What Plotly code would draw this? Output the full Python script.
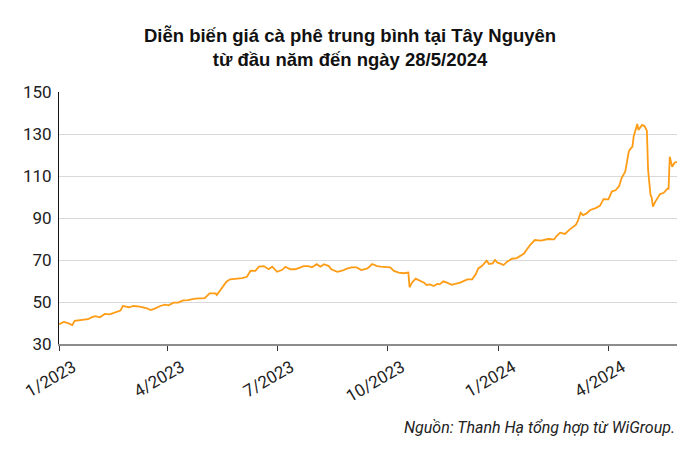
import plotly.graph_objects as go

dates = [
    "2023-01-01", "2023-01-05", "2023-01-09", "2023-01-12", "2023-01-14", "2023-01-20",
    "2023-01-25", "2023-01-28", "2023-01-31", "2023-02-04", "2023-02-08", "2023-02-12",
    "2023-02-17", "2023-02-21", "2023-02-23", "2023-02-28", "2023-03-04", "2023-03-09",
    "2023-03-15", "2023-03-18", "2023-03-22", "2023-03-26", "2023-03-30", "2023-04-02",
    "2023-04-06", "2023-04-10", "2023-04-14", "2023-04-18", "2023-04-24", "2023-04-28",
    "2023-05-02", "2023-05-06", "2023-05-11", "2023-05-12", "2023-05-16", "2023-05-20",
    "2023-05-23", "2023-05-27", "2023-06-02", "2023-06-06", "2023-06-09", "2023-06-13",
    "2023-06-16", "2023-06-20", "2023-06-24", "2023-06-27", "2023-07-01", "2023-07-05",
    "2023-07-08", "2023-07-12", "2023-07-16", "2023-07-20", "2023-07-23", "2023-07-27",
    "2023-07-30", "2023-08-03", "2023-08-06", "2023-08-09", "2023-08-13", "2023-08-15",
    "2023-08-20", "2023-08-24", "2023-08-28", "2023-09-01", "2023-09-05", "2023-09-09",
    "2023-09-14", "2023-09-18", "2023-09-22", "2023-09-25", "2023-09-27", "2023-10-03",
    "2023-10-06", "2023-10-10", "2023-10-14", "2023-10-18", "2023-10-19", "2023-10-21",
    "2023-10-24", "2023-10-28", "2023-10-31", "2023-11-02", "2023-11-05", "2023-11-08",
    "2023-11-11", "2023-11-13", "2023-11-16", "2023-11-19", "2023-11-23", "2023-11-26",
    "2023-11-30", "2023-12-06", "2023-12-10", "2023-12-13", "2023-12-15", "2023-12-18",
    "2023-12-22", "2023-12-24", "2023-12-27", "2023-12-29", "2023-12-31", "2024-01-02",
    "2024-01-05", "2024-01-08", "2024-01-12", "2024-01-16", "2024-01-19", "2024-01-22",
    "2024-01-24", "2024-01-27", "2024-01-31", "2024-02-05", "2024-02-11", "2024-02-16",
    "2024-02-18", "2024-02-21", "2024-02-25", "2024-02-29", "2024-03-05", "2024-03-07",
    "2024-03-09", "2024-03-11", "2024-03-14", "2024-03-17", "2024-03-21", "2024-03-25",
    "2024-03-28", "2024-04-01", "2024-04-04", "2024-04-07", "2024-04-10", "2024-04-12",
    "2024-04-15", "2024-04-18", "2024-04-19", "2024-04-21", "2024-04-22", "2024-04-25",
    "2024-04-26", "2024-04-29", "2024-05-01", "2024-05-03", "2024-05-04", "2024-05-06",
    "2024-05-07", "2024-05-08", "2024-05-10", "2024-05-12", "2024-05-14", "2024-05-17",
    "2024-05-20", "2024-05-21", "2024-05-22", "2024-05-24", "2024-05-26", "2024-05-28",
]

prices = [
    39.4, 40.5, 39.8, 39.0, 41.0, 41.3,
    41.8, 42.7, 43.3, 42.7, 44.3, 44.1,
    44.9, 45.9, 48.1, 47.5, 48.1, 47.8,
    47.0, 46.2, 47.0, 48.1, 48.7, 48.4,
    49.7, 49.7, 50.8, 50.9, 51.6, 51.6,
    51.8, 54.1, 54.1, 53.3, 56.5, 59.7,
    60.8, 61.0, 61.4, 62.0, 64.9, 64.8,
    66.8, 67.1, 65.6, 66.8, 64.4, 65.2,
    66.8, 65.6, 65.6, 66.4, 67.1, 67.1,
    66.5, 68.0, 66.8, 68.0, 67.1, 65.6,
    64.4, 64.9, 65.9, 66.5, 66.5, 65.2,
    66.0, 68.1, 67.1, 66.8, 66.8, 66.5,
    64.8, 64.0, 63.7, 64.0, 57.0, 59.2,
    61.1, 59.9, 59.2, 58.1, 58.4, 57.6,
    58.6, 58.4, 59.9, 59.2, 58.2, 58.6,
    59.2, 60.8, 60.8, 63.3, 66.0, 67.1,
    69.7, 68.1, 68.4, 70.0, 68.7, 68.4,
    67.6, 69.2, 70.6, 70.9, 72.2, 73.1,
    74.8, 77.1, 79.5, 79.2, 80.0, 79.8,
    81.4, 83.0, 82.4, 84.6, 86.7, 89.0,
    92.5, 91.4, 92.2, 93.8, 94.6, 95.8,
    99.0, 98.9, 102.7, 103.2, 105.2, 109.0,
    112.0, 121.6, 122.7, 124.0, 128.7, 134.8,
    131.9, 134.3, 133.8, 131.6, 112.9, 101.0,
    99.8, 95.4, 97.8, 99.8, 101.4, 102.0,
    104.0, 103.9, 119.2, 114.4, 116.3, 116.8,
]

tick_dates = ["2023-01-01", "2023-04-01", "2023-07-01", "2023-10-01", "2024-01-01", "2024-04-01"]
tick_labels = ["1/2023", "4/2023", "7/2023", "10/2023", "1/2024", "4/2024"]
y_ticks = [30, 50, 70, 90, 110, 130, 150]

title_text = "Diễn biến giá cà phê trung bình tại Tây Nguyên<br>từ đầu năm đến ngày 28/5/2024"
source_text = "Nguồn: Thanh Hạ tổng hợp từ WiGroup."

fig = go.Figure()
fig.add_trace(go.Scatter(
    x=dates, y=prices, mode="lines",
    line=dict(color="#FF9C15", width=1.8),
    hoverinfo="skip", showlegend=False,
))

fig.update_layout(
    width=700, height=462,
    paper_bgcolor="white", plot_bgcolor="white",
    margin=dict(l=51, r=31, t=84, b=126, autoexpand=False),
    title=dict(
        text=title_text, x=0.4886, xref="container", xanchor="center",
        y=0.927, yref="container", yanchor="middle",
        font=dict(family="Liberation Sans, Arial", size=18.5, color="#111111", weight="bold"),
    ),
    xaxis=dict(
        type="date", range=["2023-01-01", "2024-05-28"],
        tickvals=tick_dates, ticktext=tick_labels, tickangle=-30,
        tickfont=dict(family="Roboto, Liberation Sans", size=17, color="#222222"),
        ticklabelshift=14,
        showgrid=False, showline=True, linecolor="#8c8c8c", linewidth=2,
        ticks="outside", ticklen=5, tickcolor="#333333", tickwidth=1,
        zeroline=False,
    ),
    yaxis=dict(
        range=[30, 150], tickvals=y_ticks,
        tickfont=dict(family="Roboto, Liberation Sans", size=17, color="#222222"),
        ticklabelstandoff=3,
        showgrid=True, gridcolor="#d9d9d9", gridwidth=1,
        showline=True, linecolor="#111111", linewidth=1,
        ticks="", zeroline=False,
    ),
    annotations=[dict(
        text=source_text, xref="paper", yref="paper", x=1.0, y=-0.333,
        xanchor="right", yanchor="middle", showarrow=False,
        font=dict(family="Liberation Sans Narrow, Roboto", size=16, color="#222222", style="italic"),
    )],
)

fig.write_html("out.html")
